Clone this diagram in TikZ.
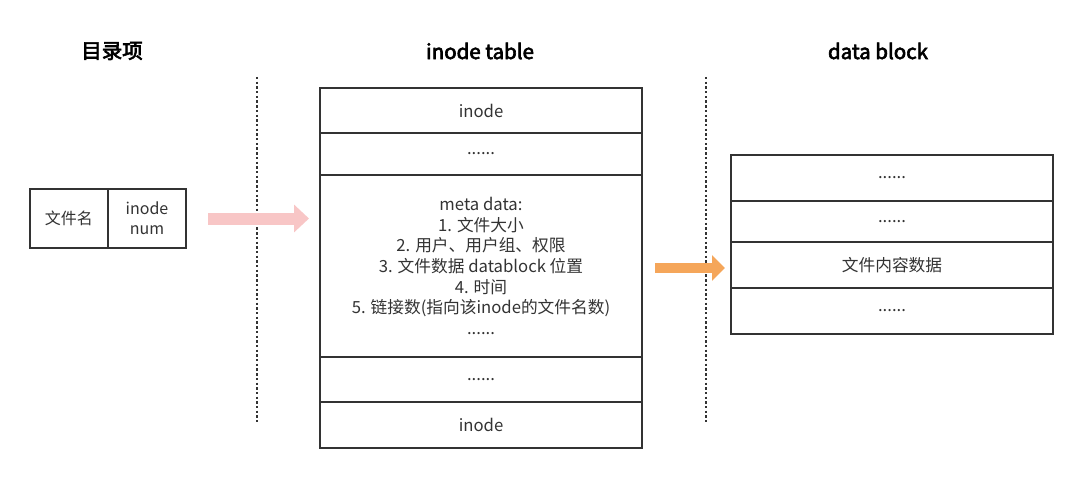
\documentclass[tikz,border=0pt]{standalone}
\usepackage{fontspec}
\setmainfont{Noto Sans CJK SC}
\newfontfamily\titlefont{Noto Sans CJK SC}[FakeBold=3]
\usetikzlibrary{arrows.meta}
\definecolor{ln}{HTML}{333333}
\definecolor{tx}{HTML}{333333}
\definecolor{pinkarr}{HTML}{F8C6C6}
\definecolor{orangearr}{HTML}{F5A65A}
\tikzset{
  cell/.style={draw=ln, line width=2pt, fill=white, inner sep=0pt, align=center,
    text=tx, font=\fontsize{16.7}{20.7}\selectfont},
  title/.style={text=black, font=\titlefont\fontsize{20.5}{24}\selectfont},
  sep/.style={draw=ln, line width=2.6pt, dash pattern=on 2.4pt off 2.3pt},
}
\begin{document}
\begin{tikzpicture}[x=1pt,y=-1pt]
\useasboundingbox (0,0) rectangle (1080,487);
% titles
\node[title] (t1) at (112,51) {目录项};
\node[title] (t2) at (480,51) {inode table};
\node[title] (t3) at (878,51) {data block};
% separators
\coordinate (s1a) at (257,77);
\coordinate (s1b) at (257,422);
\coordinate (s2a) at (706,77);
\coordinate (s2b) at (706,422);
\draw[sep] (s1a) -- (s1b);
\draw[sep] (s2a) -- (s2b);
% directory entry
\node[cell, minimum width=78pt, minimum height=59pt, font=\fontsize{16}{20}\selectfont] (fn) at (69,218.5) {文件名};
\node[cell, minimum width=78pt, minimum height=59pt, font=\fontsize{16}{20}\selectfont] (inum) at (147,218.5) {inode\\num};
% inode table
\node[cell, minimum width=322pt, minimum height=45pt] (i1) at (481,110.5) {inode};
\node[cell, minimum width=322pt, minimum height=42pt] (i2) at (481,154) {......};
\node[cell, minimum width=322pt, minimum height=182pt] (meta) at (481,266) {meta data:\\1. 文件大小\\2. 用户、用户组、权限\\3. 文件数据 datablock 位置\\4. 时间\\5. 链接数(指向该inode的文件名数)\\......};
\node[cell, minimum width=322pt, minimum height=45pt] (i4) at (481,379.5) {......};
\node[cell, minimum width=322pt, minimum height=46pt] (i5) at (481,425) {inode};
% data block
\node[cell, minimum width=322pt, minimum height=46pt] (d1) at (892,178) {......};
\node[cell, minimum width=322pt, minimum height=41pt] (d2) at (892,221.5) {......};
\node[cell, minimum width=322pt, minimum height=46pt] (d3) at (892,265) {文件内容数据};
\node[cell, minimum width=322pt, minimum height=46pt] (d4) at (892,311) {......};
% arrows
\draw[draw=pinkarr, line width=12pt, shorten <=21pt, shorten >=10pt,
  -{Triangle[length=15pt,width=27pt]}] (inum.east) -- (inum.east -| meta.west);
\draw[draw=orangearr, line width=10pt, shorten <=12pt, shorten >=5pt,
  -{Triangle[length=13pt,width=25pt]}] (meta.east |- d3.west) ++(0,3) -- (d3.west |- 0,268);
\end{tikzpicture}
\end{document}
